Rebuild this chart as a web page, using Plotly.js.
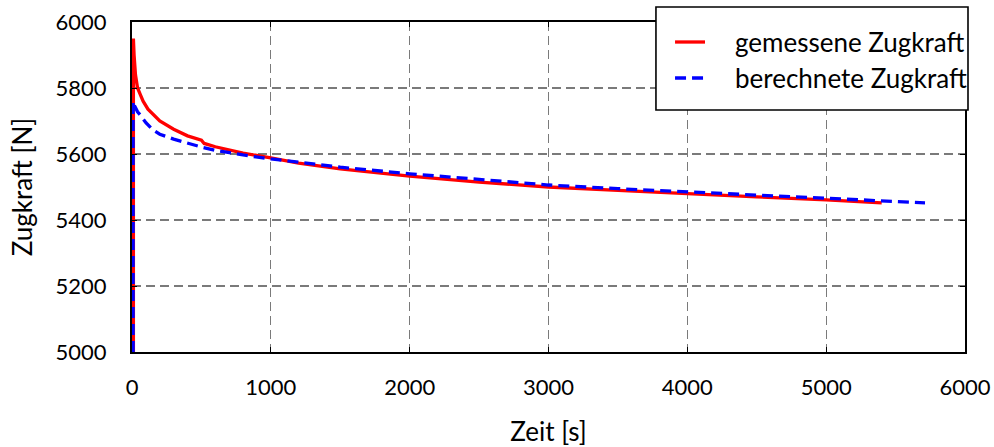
<!DOCTYPE html>
<html><head><meta charset="utf-8">
<script src="https://cdn.plot.ly/plotly-3.0.1.min.js"></script>
<style>body{margin:0;background:#fff}#chart{width:994px;height:447px}</style>
</head><body><div id="chart"></div>
<script>
const measuredTime = [10,10,15,25,40,60,80,115,150,200,300,400,500,520,600,700,800,1000,1200,1500,2000,2500,3000,3500,4000,4500,5000,5400];
const measuredForce = [5000,5950,5900,5840,5800,5780,5760,5736,5720,5700,5675,5655,5642,5632,5622,5612,5603,5588,5572,5555,5533,5515,5500,5490,5479,5470,5461,5452];
const computedTime = [8,8,20,40,60,100,150,200,300,400,500,600,700,800,1000,1500,2000,2500,3000,3500,4000,4500,5000,5400,5712];
const computedForce = [5000,5760,5745,5728,5718,5695,5673,5660,5645,5632,5621,5611,5603,5597,5585,5560,5540,5522,5506,5495,5485,5474,5464,5458,5452];
const xTicks = [0,1000,2000,3000,4000,5000,6000];
const yTicks = [5000,5200,5400,5600,5800,6000];
const seriesNames = ['gemessene Zugkraft', 'berechnete Zugkraft'];
const seriesColors = ['#ff0000', '#0000ff'];
const seriesDash = ['solid', '11px,6px'];

const FONT = "Lato, 'Open Sans', sans-serif";
const WT = 400;
const W = 3.3;
const traces = [
  {x: measuredTime, y: measuredForce, mode:'lines', name:seriesNames[0], showlegend:false, line:{color:seriesColors[0], width:W, dash:seriesDash[0]}},
  {x: computedTime, y: computedForce, mode:'lines', name:seriesNames[1], showlegend:false, line:{color:seriesColors[1], width:W, dash:seriesDash[1]}}
];
const axisCommon = {showline:true, linecolor:'#000', linewidth:2, mirror:'ticks', ticks:'inside', ticklen:5, tickcolor:'#000',
  showgrid:true, gridcolor:'#7a7a7a', griddash:'9px,5px', gridwidth:1.3, zeroline:false,
  tickfont:{size:22, color:'#000', family:FONT, weight:WT}};

// legend box (paper coordinates)
const lg = {x0:0.629, x1:1.0036, y0:0.7333, y1:1.0455, lineX0:0.6519, lineX1:0.6879, textX:0.7215, rows:[0.9394, 0.8303]};
const shapes = [{type:'rect', xref:'paper', yref:'paper', x0:lg.x0, x1:lg.x1, y0:lg.y0, y1:lg.y1,
  fillcolor:'#fff', line:{color:'#000', width:1.6}, layer:'above'}];
const annotations = [];
seriesNames.forEach((n, i) => {
  shapes.push({type:'line', xref:'paper', yref:'paper', x0:lg.lineX0, x1:lg.lineX1, y0:lg.rows[i], y1:lg.rows[i],
    line:{color:seriesColors[i], width:W, dash:seriesDash[i]}, layer:'above'});
  annotations.push({xref:'paper', yref:'paper', x:lg.textX, y:lg.rows[i], xanchor:'left', yanchor:'middle', showarrow:false,
    text:n, font:{size:26, family:FONT, color:'#000', weight:WT}});
});

const layout = {
  width:994, height:447, margin:{l:132, r:29, t:22, b:95}, paper_bgcolor:'#fff', plot_bgcolor:'#fff',
  font:{family:FONT, color:'#000'},
  xaxis: Object.assign({}, axisCommon, {range:[0,6000], tickvals:xTicks, ticktext:xTicks.map(String), ticklabelstandoff:15,
    title:{text:'Zeit [s]', font:{size:26, family:FONT, weight:WT}, standoff:25}}),
  yaxis: Object.assign({}, axisCommon, {range:[5000,6000], tickvals:yTicks, ticktext:yTicks.map(String), ticklabelstandoff:19,
    title:{text:'Zugkraft [N]', font:{size:26, family:FONT, weight:WT}, standoff:15}}),
  shapes: shapes, annotations: annotations,
  showlegend:false
};
Plotly.newPlot('chart', traces, layout, {displayModeBar:false, staticPlot:true});
</script></body></html>
